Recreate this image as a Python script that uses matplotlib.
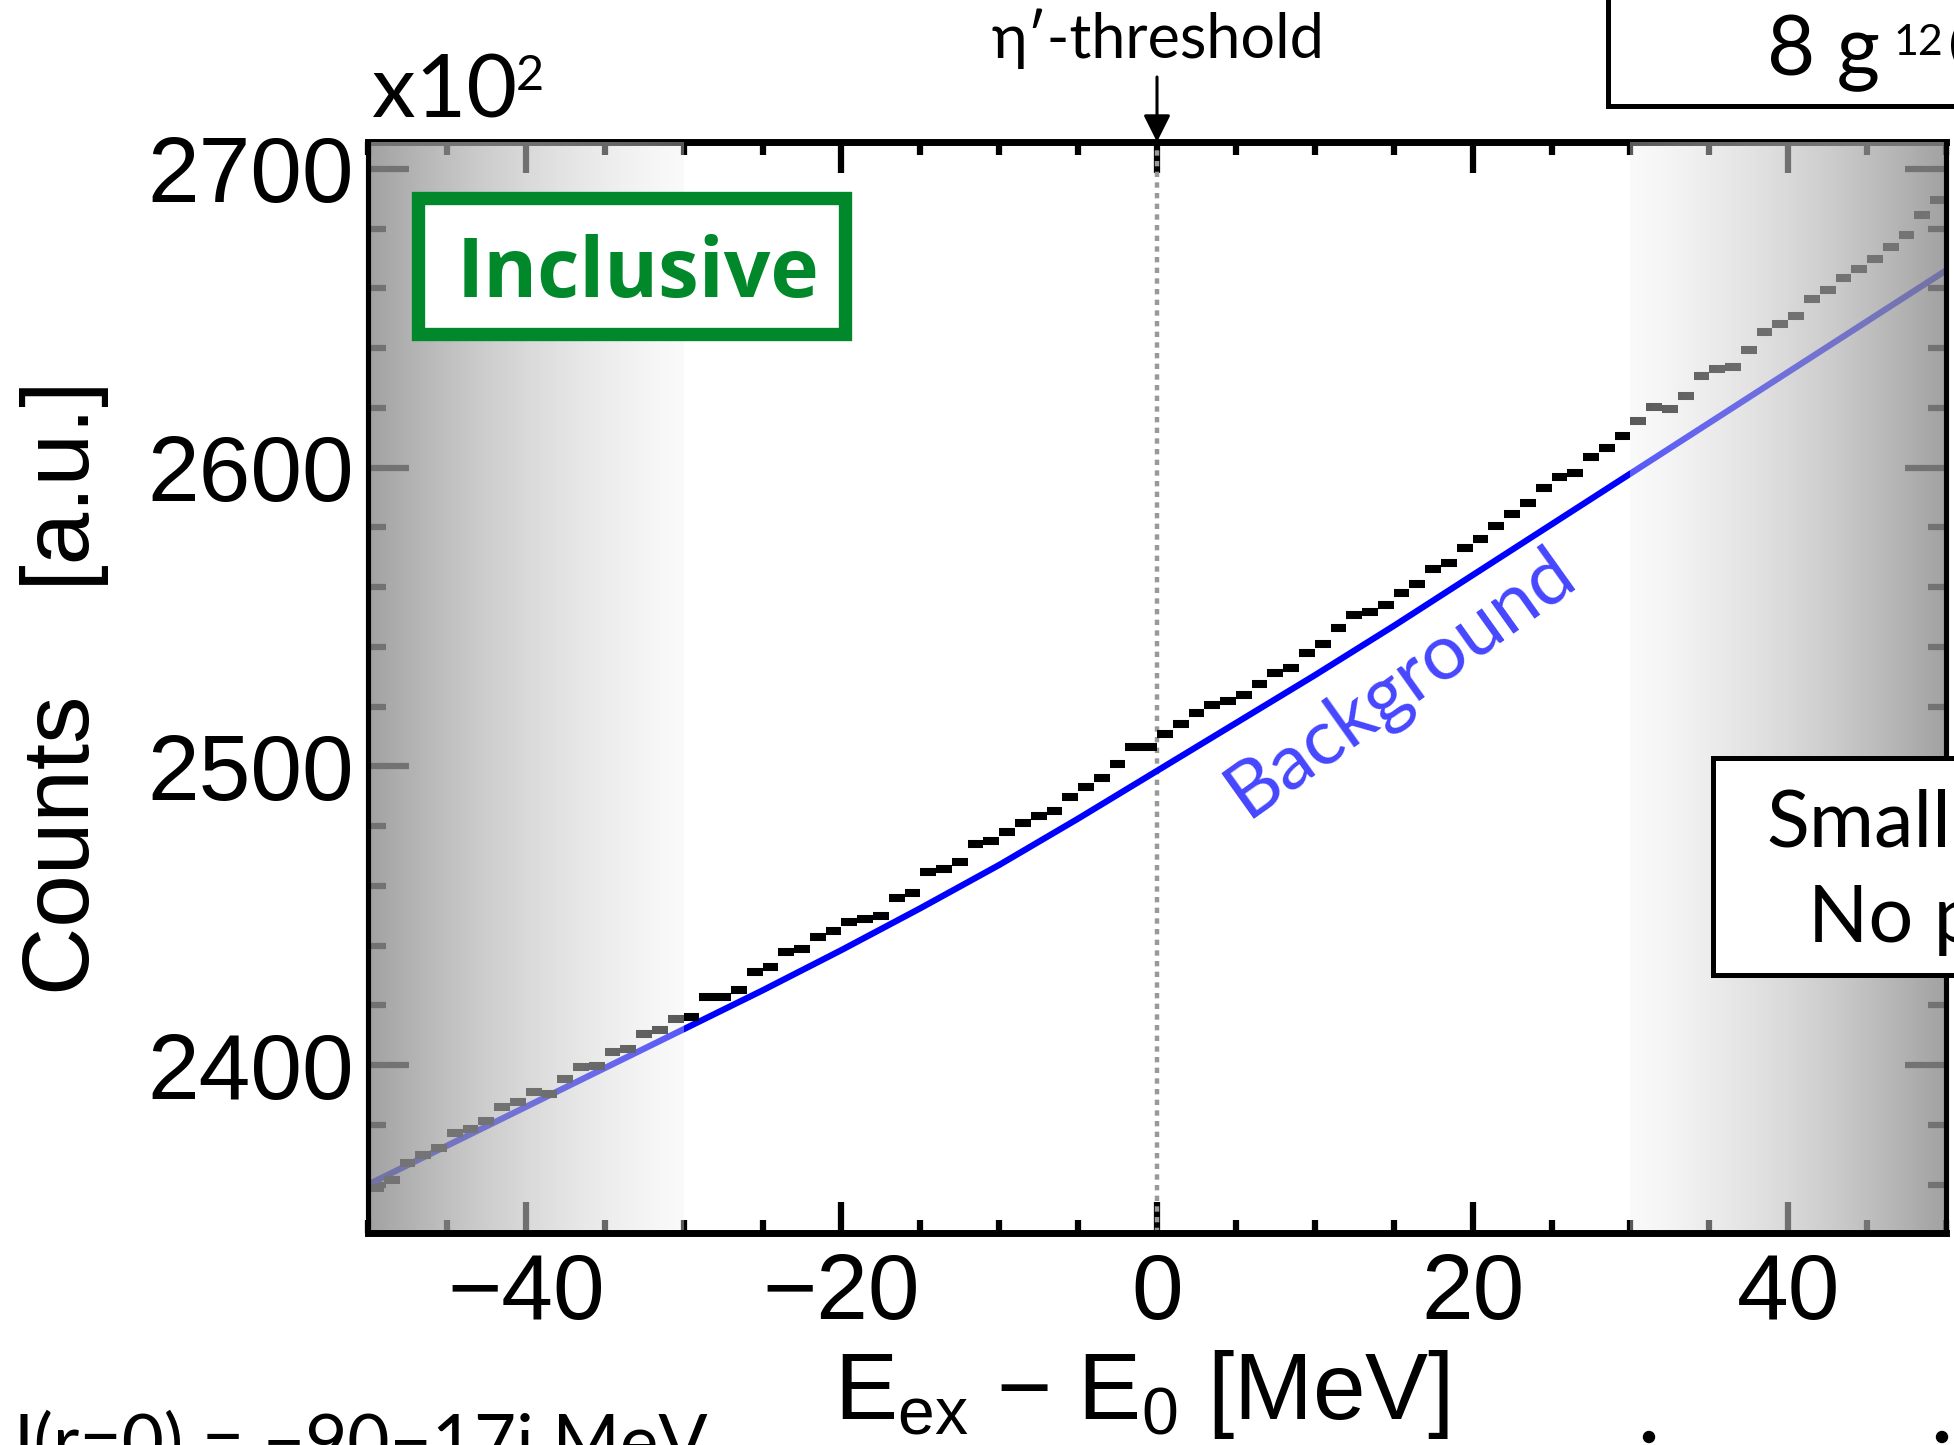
import numpy as np
import matplotlib
matplotlib.use("Agg")
import matplotlib.pyplot as plt
from matplotlib.patches import Rectangle, Ellipse
from matplotlib.ticker import MultipleLocator

plt.rcParams['font.family'] = 'Liberation Sans'
plt.rcParams['mathtext.fontset'] = 'custom'
plt.rcParams['mathtext.rm'] = 'Liberation Sans'
plt.rcParams['mathtext.it'] = 'Liberation Sans:italic'
GILL = ['Lato', 'DejaVu Sans']

# spectrum in 1 MeV bins (counts x 10^2)
e_bins = np.arange(-49.5, 50, 1.0)
counts = np.array([
    2359.0, 2361.5, 2367.3, 2369.9, 2372.4, 2377.3, 2378.6, 2381.3, 2386.0, 2387.7,
    2391.1, 2390.3, 2395.3, 2399.4, 2399.8, 2404.5, 2405.5, 2410.4, 2411.7, 2415.4,
    2416.2, 2422.7, 2422.7, 2425.1, 2431.1, 2432.7, 2438.0, 2439.0, 2443.0, 2445.0,
    2448.0, 2449.0, 2450.0, 2456.0, 2457.5, 2464.5, 2465.5, 2468.0, 2474.0, 2475.0,
    2478.0, 2481.0, 2483.5, 2485.2, 2489.7, 2493.2, 2496.0, 2500.8, 2506.6, 2506.6,
    2510.8, 2514.2, 2518.0, 2520.6, 2521.9, 2524.0, 2527.5, 2531.2, 2532.8, 2538.0,
    2540.9, 2546.2, 2550.7, 2551.8, 2554.0, 2558.0, 2561.0, 2566.0, 2568.0, 2573.0,
    2576.0, 2580.5, 2584.5, 2588.3, 2593.1, 2596.7, 2598.1, 2603.5, 2606.5, 2610.7,
    2615.6, 2620.4, 2619.5, 2624.1, 2630.8, 2633.0, 2633.8, 2639.4, 2645.3, 2648.0,
    2650.9, 2656.6, 2659.3, 2663.6, 2666.6, 2669.8, 2673.8, 2677.9, 2684.6, 2689.6,
])

# background curve
bg_x = [-50, -45, -40, -35, -30, -25, -20, -15, -10, -5, 0,
        5, 10, 15, 20, 25, 30, 35, 40, 45, 50]
bg_y = [2360, 2373, 2386, 2399, 2412, 2425, 2438.5, 2452.5, 2467, 2482.5, 2498.5,
        2514.5, 2530.5, 2547, 2564, 2581, 2598, 2615, 2632, 2649, 2666]

xlim = (-50, 50)
ylim = (2343.8, 2709)
W, H = 1954, 1445


def fx(px):
    return px / W


def fy(py):
    return 1 - py / H


fig = plt.figure(figsize=(W / 100, H / 100), dpi=100)
ax = fig.add_axes([fx(368), fy(1233), (1946 - 368) / W, (1233 - 142) / H])

ax.axvline(0, color='#999999', lw=3.2, ls=(0, (1.2, 1.2)), zorder=1)
ax.plot(bg_x, bg_y, color=(0, 0, 1), lw=4.5, zorder=2)
ax.hlines(counts, e_bins - 0.5, e_bins + 0.5, colors='black', lw=5.8, zorder=3)

# faded side bands
n = 256
t = np.linspace(0, 1, n)
shade = np.zeros((1, n, 4))
shade[0, :, :3] = (0.55 + 0.40 * t)[:, None]
shade[0, :, 3] = 0.82 - 0.45 * t
ax.imshow(shade, extent=(-50, -30, ylim[0], ylim[1]), aspect='auto',
          interpolation='bilinear', zorder=4)
ax.imshow(shade[:, ::-1], extent=(30, 50, ylim[0], ylim[1]), aspect='auto',
          interpolation='bilinear', zorder=4)

ax.set_xlim(*xlim)
ax.set_ylim(*ylim)
ax.set_axisbelow(True)

ax.xaxis.set_major_locator(MultipleLocator(20))
ax.xaxis.set_minor_locator(MultipleLocator(5))
ax.yaxis.set_major_locator(MultipleLocator(100))
ax.yaxis.set_minor_locator(MultipleLocator(20))
ax.tick_params(which='both', direction='in', top=True, right=True)
ax.tick_params(axis='x', which='major', length=22, width=4.5, labelsize=67, pad=14)
ax.tick_params(axis='x', which='minor', length=9.5, width=4.5)
ax.tick_params(axis='y', which='major', length=29.5, width=4.5, labelsize=67, pad=10)
ax.tick_params(axis='y', which='minor', length=13, width=4.5)

for side in ['bottom', 'left', 'right']:
    ax.spines[side].set_zorder(6)
ax.spines['top'].set_zorder(3.5)
ax.spines['top'].set_linewidth(5)
ax.spines['bottom'].set_linewidth(5)
ax.spines['left'].set_linewidth(3.7)
ax.spines['right'].set_linewidth(3.7)

ax.set_ylabel('Counts    [a.u.]', fontsize=68)
ax.yaxis.set_label_coords(-0.164, 0.5)
ax.set_xlabel(r'$\mathregular{E_{ex}\ {-}\ E_0\ [MeV]}$', fontsize=68)
ax.xaxis.set_label_coords(0.49, -0.105)

ax.text(15.5, 2528, 'Background', rotation=35.5, color='#4646FF', fontsize=56,
        ha='center', va='center', rotation_mode='anchor', family=GILL, zorder=5)

# threshold marker
ax.annotate('', xy=(0, 1), xycoords=('data', 'axes fraction'),
            xytext=(0, 1 + 65 / 1091), textcoords=('data', 'axes fraction'),
            arrowprops=dict(arrowstyle='-|>,head_length=0.4,head_width=0.2',
                            mutation_scale=41, lw=2.2, color='black',
                            shrinkA=0, shrinkB=0),
            annotation_clip=False, zorder=7)
fig.text(fx(1158), fy(58), 'η′-threshold', fontsize=44, ha='center',
         va='baseline', family=GILL)

fig.text(fx(372), fy(118), 'x10', fontsize=63, ha='left', va='baseline',
         family=GILL)
fig.text(fx(516), fy(90), '2', fontsize=35, ha='left', va='baseline',
         family=GILL)

# labels boxes
fig.add_artist(Rectangle((fx(417.7), fy(334)), (845 - 417.7) / W, (334 - 197.7) / H,
                         transform=fig.transFigure, fc='white', ec='#00882B',
                         lw=9.6, zorder=10))
fig.text(fx(638), fy(296.7), 'Inclusive', color='#00882B', fontsize=59,
         fontweight='bold', ha='center', va='baseline',
         family=['Open Sans', 'DejaVu Sans'], zorder=11)

fig.add_artist(Rectangle((fx(1713), fy(974.5)), (2200 - 1713) / W, (974.5 - 757.5) / H,
                         transform=fig.transFigure, fc='white', ec='black',
                         lw=3.6, zorder=10))
fig.text(fx(1766), fy(846.7), 'Small', fontsize=57, ha='left', va='baseline',
         family=GILL, zorder=11)
fig.text(fx(1808), fy(941.7), 'No peak', fontsize=57, ha='left', va='baseline',
         family=GILL, zorder=11)

fig.add_artist(Rectangle((fx(1607.5), fy(105.5)), (2200 - 1607.5) / W, 200 / H,
                         transform=fig.transFigure, fc='white', ec='black',
                         lw=3.6, zorder=10))
fig.text(fx(1766.7), fy(75), '8 g', fontsize=60, ha='left', va='baseline',
         family=GILL, zorder=11)
fig.text(fx(1893), fy(55), '12', fontsize=31, ha='left', va='baseline',
         family=GILL, zorder=11)
fig.text(fx(1947), fy(75), 'C', fontsize=60, ha='left', va='baseline',
         family=GILL, zorder=11)

fig.text(fx(-20), fy(1467), 'U(r=0) = −90−17i MeV', fontsize=52.5, ha='left',
         va='baseline', family=GILL)

for dx in [1649, 1942]:
    fig.add_artist(Ellipse((fx(dx), fy(1437)), 11 / W, 11 / H,
                           transform=fig.transFigure, color='black'))

fig.savefig('out.png', dpi=100)
